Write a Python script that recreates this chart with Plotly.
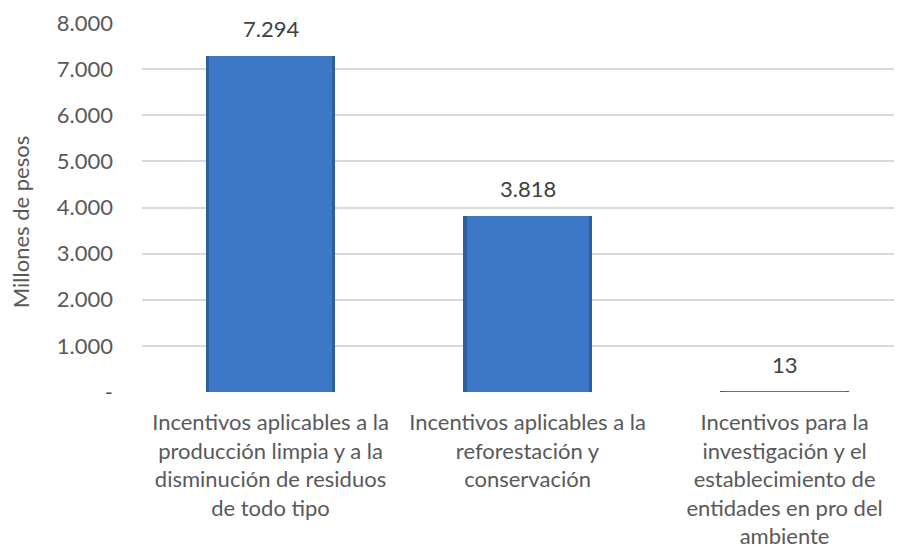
import plotly.graph_objects as go

categorias = [
    "Incentivos aplicables a la<br>producción limpia y a la<br>disminución de residuos<br>de todo tipo",
    "Incentivos aplicables a la<br>reforestación y<br>conservación",
    "Incentivos para la<br>investigación y el<br>establecimiento de<br>entidades en pro del<br>ambiente",
]
valores = [7294, 3818, 13]
etiquetas = ["7.294", "3.818", "13"]
y_ticks = [0, 1000, 2000, 3000, 4000, 5000, 6000, 7000, 8000]
y_tick_text = ["-", "1.000", "2.000", "3.000", "4.000", "5.000", "6.000", "7.000", "8.000"]

gris = "#595959"
fuente = "Lato"
tam = 22

fig = go.Figure()

# bar body with a darker edge, then a lighter inner panel for the bevel look
fig.add_trace(go.Bar(
    x=categorias, y=valores, width=0.505,
    marker=dict(color="#2d5f9f", line=dict(width=0)),
    hoverinfo="skip", showlegend=False,
))
fig.add_trace(go.Bar(
    x=categorias, y=valores, width=0.475,
    marker=dict(color="#3c78c6", line=dict(width=0)),
    showlegend=False,
))

for cat, val, txt in zip(categorias, valores, etiquetas):
    fig.add_annotation(
        x=cat, y=val, text=txt, showarrow=False,
        yanchor="middle", yshift=27,
        font=dict(family=fuente, size=tam, color="#404040"),
    )

fig.add_annotation(
    text="Millones de pesos", xref="paper", yref="paper",
    x=0, y=0.46, xshift=-122, xanchor="center", yanchor="middle",
    textangle=-90, showarrow=False,
    font=dict(family=fuente, size=tam, color=gris),
)

fig.update_layout(
    width=902, height=548,
    margin=dict(l=134, r=0, t=15, b=164),
    plot_bgcolor="white", paper_bgcolor="white",
    barmode="overlay", bargap=0,
    font=dict(family=fuente, size=tam, color=gris),
    xaxis=dict(
        range=[-0.5, 2.488], showgrid=False, zeroline=False, automargin=False,
        showline=False, ticks="", tickangle=0, ticklabelstandoff=15,
        tickfont=dict(family=fuente, size=tam, color=gris),
    ),
    yaxis=dict(
        range=[0, 8000], tickvals=y_ticks, ticktext=y_tick_text, automargin=False,
        showgrid=True, gridcolor="#d9d9d9", gridwidth=1.5,
        zeroline=False, showline=False, ticks="", ticklabelstandoff=28,
        tickfont=dict(family=fuente, size=tam, color=gris),
    ),
)

fig.write_html("out.html")
